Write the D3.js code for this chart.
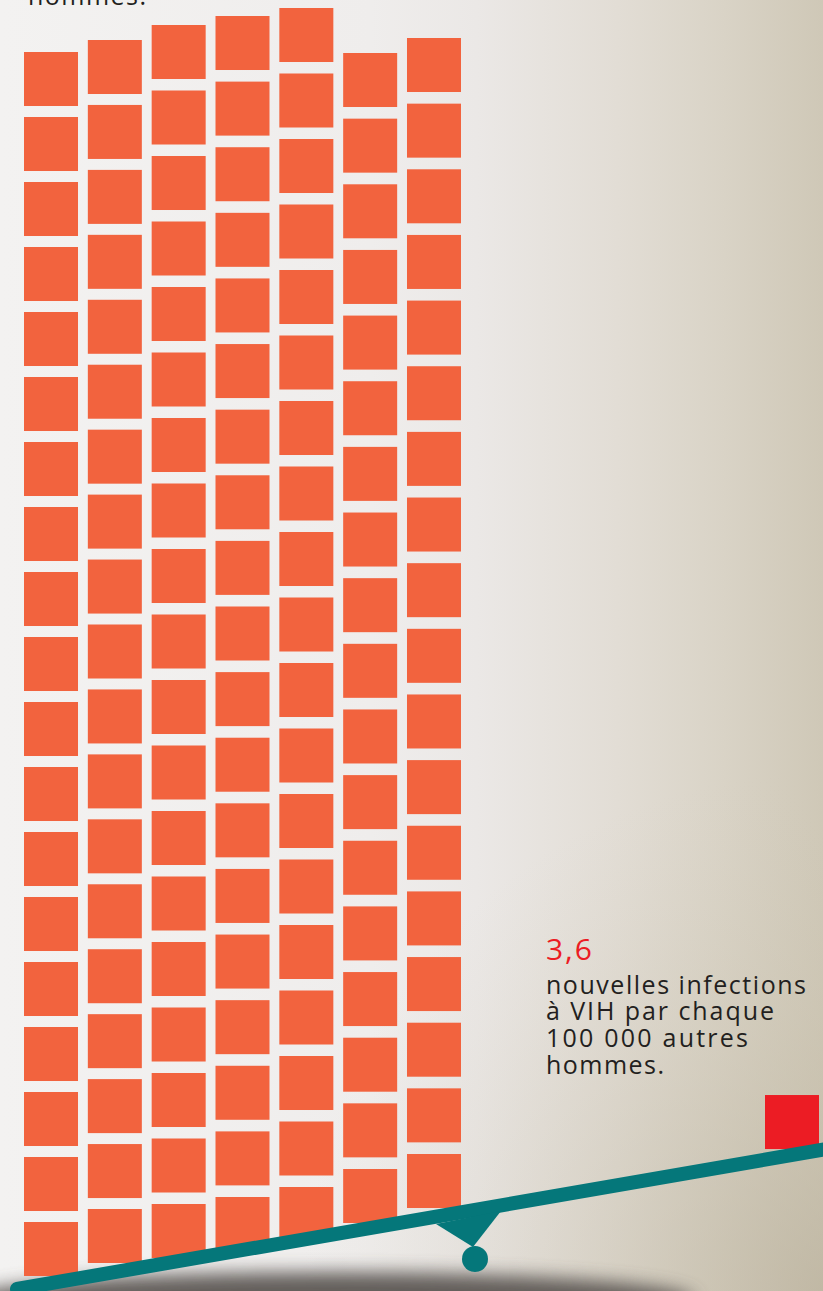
<!DOCTYPE html>
<html>
<head>
<meta charset="utf-8">
<script src="https://cdn.jsdelivr.net/npm/d3@7"></script>
<style>
  html, body { margin: 0; padding: 0; background: #f2f0ef; }
  svg { display: block; }
</style>
</head>
<body>
<script>
// ---------------- DATA ----------------
// One square = 1 new HIV infection per 100 000 men (pictogram units)
const leftColumnCounts = [19, 19, 19, 19, 19, 18, 18];   // 131 squares in 7 columns
const rightCount = 1;                                      // the single red square
const rateLabel = "3,6";
const rateLines = ["nouvelles infections", "à VIH par chaque", "100 000 autres", "hommes."];
const topCutLine = "hommes.";

// ---------------- LAYOUT ----------------
const W = 823, H = 1291;
const colTopY  = [52, 40, 25, 16, 8, 53, 38];
const colLastY = [1222, 1209, 1204, 1197, 1187, 1169, 1154];
const beam = { x0: 17, y0: 1289, x1: 850, y1: 1145, width: 14 };
const beamTopAt = x => beam.y0 + (beam.y1 - beam.y0) * (x - beam.x0) / (beam.x1 - beam.x0) - beam.width / 2;

const colors = {
  orange: "#f2633e",
  red: "#ec1c24",
  teal: "#05777a",
  text: "#231f20"
};

const svg = d3.select("body").append("svg")
  .attr("width", W).attr("height", H);

const defs = svg.append("defs");

// background gradients
const bgLin = defs.append("linearGradient").attr("id", "bgLin")
  .attr("x1", 0).attr("y1", 0).attr("x2", 1).attr("y2", 0);
[[0, "#f3f2f1"], [0.45, "#efedec"], [0.58, "#ebe8e6"], [0.75, "#e2ddd5"], [0.88, "#d9d3c6"], [1, "#cfc8b7"]]
  .forEach(([o, c]) => bgLin.append("stop").attr("offset", o).attr("stop-color", c));

const bgRad = defs.append("radialGradient").attr("id", "bgRad")
  .attr("gradientUnits", "userSpaceOnUse")
  .attr("cx", 823).attr("cy", 1291).attr("r", 520);
[[0, "#b9b09b", 0.65], [0.5, "#c4bca8", 0.3], [1, "#d2cbbb", 0]]
  .forEach(([o, c, a]) => bgRad.append("stop").attr("offset", o).attr("stop-color", c).attr("stop-opacity", a));

const blur = defs.append("filter").attr("id", "shadowBlur")
  .attr("x", "-30%").attr("y", "-100%").attr("width", "160%").attr("height", "300%");
blur.append("feGaussianBlur").attr("stdDeviation", 9);

svg.append("rect").attr("width", W).attr("height", H).attr("fill", "url(#bgLin)");
svg.append("rect").attr("width", W).attr("height", H).attr("fill", "url(#bgRad)");

// ground shadow under the beam
svg.append("ellipse")
  .attr("cx", 330).attr("cy", 1300).attr("rx", 365).attr("ry", 28)
  .attr("fill", "#5c5752").attr("opacity", 0.95)
  .attr("filter", "url(#shadowBlur)");

// ---------------- SCALES ----------------
const xCol = d3.scaleBand()
  .domain(d3.range(leftColumnCounts.length))
  .range([24, 461])
  .paddingInner(0.154)
  .paddingOuter(0);

const squares = [];
leftColumnCounts.forEach((n, c) => {
  const yRow = d3.scaleLinear().domain([0, n - 1]).range([colTopY[c], colLastY[c]]);
  d3.range(n).forEach(r => squares.push({ c, r, x: xCol(c), y: yRow(r) }));
});

svg.append("g").selectAll("rect")
  .data(squares)
  .join("rect")
  .attr("x", d => d.x)
  .attr("y", d => d.y)
  .attr("width", xCol.bandwidth())
  .attr("height", xCol.bandwidth())
  .attr("fill", colors.orange);

// right side: single red square resting on the beam
const xRight = d3.scaleBand().domain(d3.range(rightCount)).range([765, 819]).padding(0);
svg.append("g").selectAll("rect")
  .data(d3.range(rightCount))
  .join("rect")
  .attr("x", d => xRight(d))
  .attr("y", d => beamTopAt(xRight(d) + xRight.bandwidth() / 2) - xRight.bandwidth() + 1)
  .attr("width", xRight.bandwidth())
  .attr("height", xRight.bandwidth())
  .attr("fill", colors.red);

// ---------------- SEESAW ----------------
svg.append("line")
  .attr("x1", beam.x0).attr("y1", beam.y0)
  .attr("x2", beam.x1).attr("y2", beam.y1)
  .attr("stroke", colors.teal)
  .attr("stroke-width", beam.width)
  .attr("stroke-linecap", "round");

svg.append("path")
  .attr("d", d3.line()([[436, 1224], [501, 1211], [473, 1247]]))
  .attr("fill", colors.teal);
svg.append("circle")
  .attr("cx", 475).attr("cy", 1259).attr("r", 13)
  .attr("fill", colors.teal);

// ---------------- TEXT ----------------
const font = "'Open Sans', 'Noto Sans', sans-serif";

svg.append("text")
  .attr("x", 28).attr("y", 5)
  .attr("font-family", font).attr("font-size", 25)
  .attr("fill", colors.text)
  .attr("textLength", 118).attr("lengthAdjust", "spacing")
  .text(topCutLine);

svg.append("text")
  .attr("x", 546).attr("y", 960)
  .attr("font-family", font).attr("font-size", 30)
  .attr("fill", colors.red)
  .attr("textLength", 46).attr("lengthAdjust", "spacing")
  .text(rateLabel);

const lineWidths = [260, 228, 202, 118];
const baselines = [994, 1020, 1047, 1074];
svg.append("g").selectAll("text")
  .data(rateLines)
  .join("text")
  .attr("x", 546)
  .attr("y", (d, i) => baselines[i])
  .attr("font-family", font).attr("font-size", 25)
  .attr("fill", colors.text)
  .attr("textLength", (d, i) => lineWidths[i]).attr("lengthAdjust", "spacing")
  .text(d => d);
</script>
</body>
</html>
